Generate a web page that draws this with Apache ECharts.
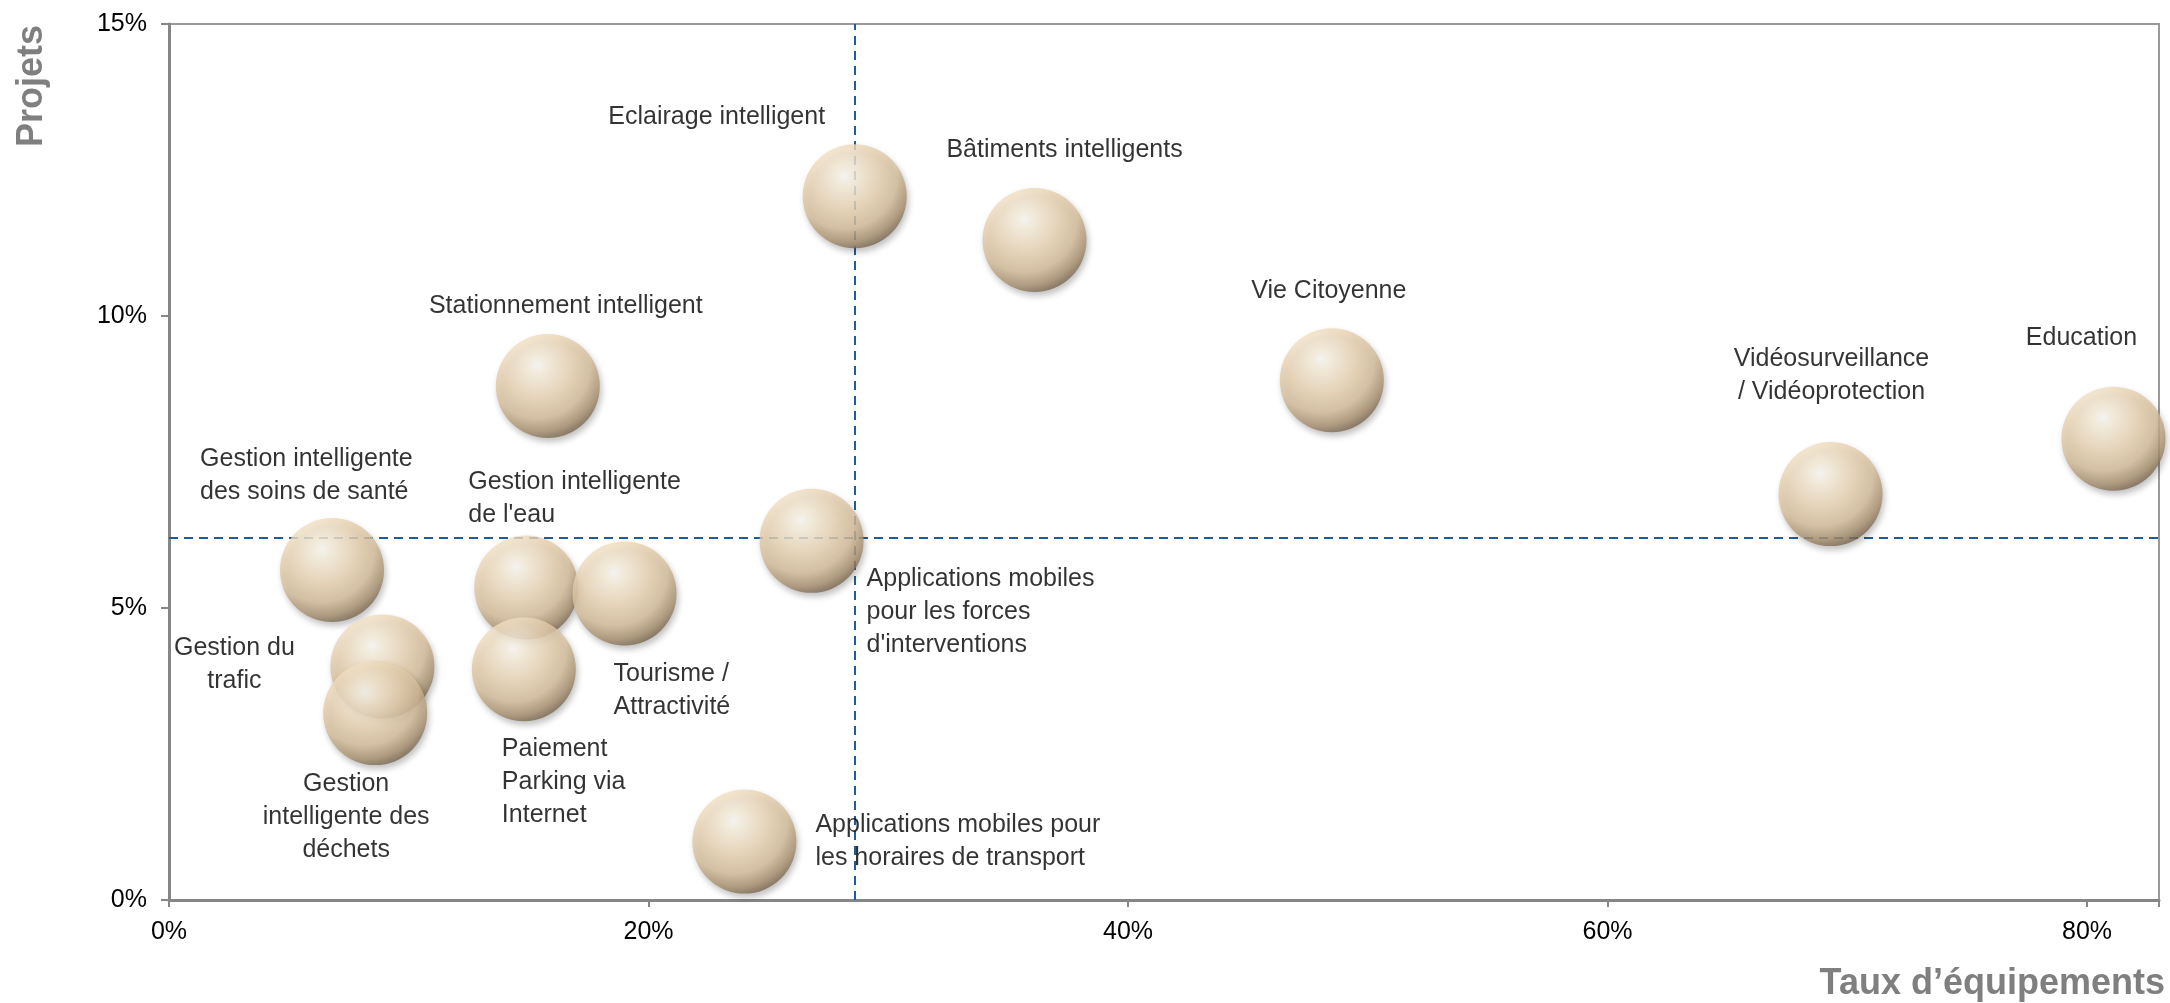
<!DOCTYPE html>
<html>
<head>
<meta charset="utf-8">
<script src="https://cdn.jsdelivr.net/npm/echarts@6/dist/echarts.min.js"></script>
<style>
  html, body { margin: 0; padding: 0; background: #fff; }
  #chart { width: 2170px; height: 1003px; }
</style>
</head>
<body>
<div id="chart"></div>
<script>
// noms des usages (texte des étiquettes)
var names = [
  'Eclairage intelligent',
  'Bâtiments intelligents',
  'Vie Citoyenne',
  'Education',
  'Vidéosurveillance\n/ Vidéoprotection',
  'Stationnement intelligent',
  'Applications mobiles\npour les forces\nd\'interventions',
  'Gestion intelligente\ndes soins de santé',
  'Gestion intelligente\nde l\'eau',
  'Tourisme /\nAttractivité',
  'Paiement\nParking via\nInternet',
  'Gestion du\ntrafic',
  'Gestion\nintelligente des\ndéchets',
  'Applications mobiles pour\nles horaires de transport'
];
// taux d'équipements (%)
var tauxEquip = [28.6, 36.1, 48.5, 81.1, 69.3, 15.8, 26.8, 6.8, 14.9, 19.0, 14.8, 8.9, 8.6, 24.0];
// projets (%)
var projets = [12.05, 11.3, 8.9, 7.9, 6.95, 8.8, 6.15, 5.65, 5.35, 5.25, 3.95, 4.0, 3.2, 1.0];
// lignes de référence (moyennes)
var moyenneTaux = 28.6;
var moyenneProjets = 6.2;

// placement des étiquettes [dx, dy, align]
var labelPlace = [
  [-138, -79, 'center'],
  [30, -90, 'center'],
  [-3, -89, 'center'],
  [-32, -101, 'center'],
  [1, -119, 'center'],
  [18, -80, 'center'],
  [55, 71, 'left'],
  [-132, -94, 'left'],
  [-58, -89, 'left'],
  [-11, 97, 'left'],
  [-22, 113, 'left'],
  [-148, -2, 'center'],
  [-29, 104, 'center'],
  [71, 0, 'left']
];

var sphere = {
  type: 'radial', x: 0.4, y: 0.3, r: 0.82,
  colorStops: [
    { offset: 0, color: '#fffffb' },
    { offset: 0.12, color: '#fdf3df' },
    { offset: 0.38, color: '#eed9b9' },
    { offset: 0.62, color: '#d8bf9b' },
    { offset: 0.78, color: '#a8906f' },
    { offset: 0.9, color: '#6f5d48' },
    { offset: 1, color: '#3b3127' }
  ]
};

var points = [];
for (var i = 0; i < names.length; i++) {
  var p = labelPlace[i];
  points.push({
    name: names[i],
    value: [tauxEquip[i], projets[i]],
    label: { offset: [p[0], p[1]], align: p[2] }
  });
}

var myChart = echarts.init(document.getElementById('chart'));
var option = {
  backgroundColor: '#ffffff',
  animation: false,
  grid: {
    left: 169, right: 11, top: 24, bottom: 103,
    show: true, borderColor: '#9a9a9a', borderWidth: 2
  },
  xAxis: {
    type: 'value', min: 0, max: 83, interval: 20,
    name: 'Taux d’équipements',
    nameLocation: 'end', nameGap: 6,
    nameTextStyle: {
      fontFamily: 'Liberation Sans', fontWeight: 'bold', fontSize: 36,
      color: '#7f7f7f', align: 'right', verticalAlign: 'top', padding: [66, 0, 0, 0]
    },
    axisLine: { show: true, lineStyle: { color: '#868686', width: 3 } },
    axisTick: { show: true, length: 7, lineStyle: { color: '#868686', width: 2 } },
    splitLine: { show: false },
    axisLabel: {
      margin: 20, color: '#000', fontSize: 25, fontFamily: 'Liberation Sans',
      formatter: function (v) { return v % 20 === 0 ? v + '%' : ''; }
    }
  },
  yAxis: {
    type: 'value', min: 0, max: 15, interval: 5,
    name: 'Projets',
    nameLocation: 'end', nameGap: -1, nameRotate: 90,
    nameTextStyle: {
      fontFamily: 'Liberation Sans', fontWeight: 'bold', fontSize: 36,
      color: '#7f7f7f', align: 'right', verticalAlign: 'bottom', padding: [0, 0, 119, 0]
    },
    axisLine: { show: true, lineStyle: { color: '#868686', width: 3 } },
    axisTick: { show: true, length: 8, lineStyle: { color: '#868686', width: 2 } },
    splitLine: { show: false },
    axisLabel: {
      margin: 22, color: '#000', fontSize: 25, fontFamily: 'Liberation Sans',
      formatter: '{value}%'
    }
  },
  series: [{
    type: 'scatter',
    symbol: 'circle',
    symbolSize: 104,
    data: points,
    itemStyle: {
      color: sphere,
      shadowBlur: 6,
      shadowColor: 'rgba(0,0,0,0.3)',
      shadowOffsetX: 2,
      shadowOffsetY: 4
    },
    label: {
      show: true,
      position: 'inside',
      formatter: '{b}',
      color: '#000',
      fontSize: 25,
      fontFamily: 'Liberation Sans',
      lineHeight: 33,
      verticalAlign: 'middle'
    },
    emphasis: { disabled: true },
    markLine: {
      silent: true,
      symbol: 'none',
      z: 1,
      label: { show: false },
      lineStyle: { type: [9, 6], color: '#1f5c9c', width: 2 },
      data: [
        { xAxis: moyenneTaux },
        { yAxis: moyenneProjets }
      ]
    }
  }]
};
myChart.setOption(option);
</script>
</body>
</html>
